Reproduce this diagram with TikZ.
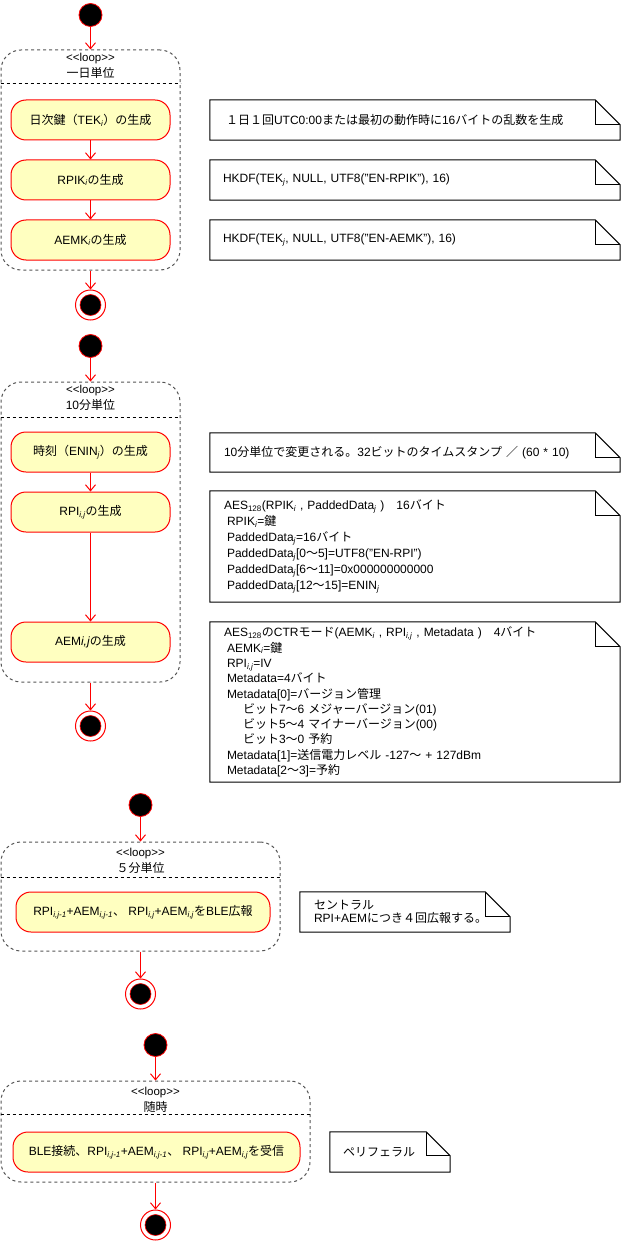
\documentclass[tikz,border=0pt]{standalone}
\usepackage{fontspec}
\setmainfont{Liberation Sans}
\newfontfamily\jpf{Noto Sans CJK JP}
\usetikzlibrary{arrows.meta}
\definecolor{boxfill}{HTML}{FFFFC0}
\definecolor{framegray}{HTML}{555555}
\newcommand\J[1]{{\jpf #1}}
\newcommand\sub[1]{\textsubscript{\itshape #1}}
\newcommand\looptext{<\kern0pt<loop>\kern0pt>}
\newcommand\notefold[2]{%
  \draw[noteline] (#1.north west) -- ([xshift=-#2pt]#1.north east) -- ([yshift=-#2pt]#1.north east) -- (#1.south east) -- (#1.south west) -- cycle;
  \draw[noteline] ([xshift=-#2pt]#1.north east) -- ([xshift=-#2pt,yshift=-#2pt]#1.north east) -- ([yshift=-#2pt]#1.north east);
}
\begin{document}
\begin{tikzpicture}[x=1pt,y=-1pt,
  arr/.style={draw=red, line width=1pt, -{Straight Barb[length=6pt,width=10pt]}},
  startc/.style={circle, fill=black, draw=red, line width=0.8pt, minimum size=23pt, inner sep=0pt},
  endo/.style={circle, fill=white, draw=red, line width=1pt, minimum size=30pt, inner sep=0pt},
  endi/.style={circle, fill=black, draw=red, line width=0.6pt, minimum size=21pt, inner sep=0pt},
  act/.style={draw=red, fill=boxfill, line width=1pt, rounded corners=15pt, minimum height=40pt, inner sep=0pt, font=\fontsize{12}{14}\selectfont},
  frame/.style={draw=framegray, line width=1pt, dash pattern=on 3pt off 3pt, rounded corners=20pt, inner sep=0pt},
  sepl/.style={draw=black, line width=1pt, dash pattern=on 3pt off 3pt},
  noteline/.style={draw=black, line width=1pt},
  note/.style={draw=none, align=left, inner ysep=0pt, font=\fontsize{12}{16}\selectfont},
  lbl/.style={inner sep=0pt, font=\fontsize{12}{14}\selectfont},
  looplbl/.style={inner sep=0pt, font=\fontsize{11.5}{13}\selectfont}
]
\useasboundingbox[fill=white] (0,0) rectangle (621,1241);

% ---------------- Section 1 ----------------
\node[frame, minimum width=179pt, minimum height=220pt] (f1) at (90.5,160) {};
\coordinate (y1) at (0,84);
\draw[sepl] (f1.west |- y1) -- (f1.east |- y1);
\node[looplbl] (l1a) at (90.5,59) {\looptext};
\node[lbl] (l1b) at (90.5,73) {\J{一日単位}};
\node[startc] (s1) at (90.5,15) {};
\node[act, minimum width=159pt] (a1) at (90.5,120) {\J{日次鍵（}TEK\sub{i}\J{）の生成}};
\node[act, minimum width=159pt] (a2) at (90.5,180) {RPIK\sub{i}\J{の生成}};
\node[act, minimum width=159pt] (a3) at (90.5,240) {AEMK\sub{i}\J{の生成}};
\node[endo] (e1) at (90.5,305) {};
\node[endi] (e1i) at (90.5,305) {};
\draw[arr] (s1) -- (f1);
\draw[arr] (a1) -- (a2);
\draw[arr] (a2) -- (a3);
\draw[arr] (f1) -- (e1);

\node[note, minimum width=410pt, minimum height=40pt, inner xsep=16pt, text width=378pt] (n1) at (415,120)
  {\J{１日１回}UTC0:00\J{または最初の動作時に}16\J{バイトの乱数を生成}};
\notefold{n1}{25}
\node[note, minimum width=410pt, minimum height=40pt, inner xsep=13pt, text width=384pt] (n2) at (415,180)
  {HKDF(TEK\sub{j}, NULL, UTF8("EN-RPIK"), 16)};
\notefold{n2}{25}
\node[note, minimum width=410pt, minimum height=40pt, inner xsep=13pt, text width=384pt] (n3) at (415,240)
  {HKDF(TEK\sub{j}, NULL, UTF8("EN-AEMK"), 16)};
\notefold{n3}{25}

% ---------------- Section 2 ----------------
\node[frame, minimum width=179pt, minimum height=300pt] (f2) at (90.5,532) {};
\coordinate (y2) at (0,417);
\draw[sepl] (f2.west |- y2) -- (f2.east |- y2);
\node[looplbl] (l2a) at (90.5,391) {\looptext};
\node[lbl] (l2b) at (90.5,405) {10\J{分単位}};
\node[startc] (s2) at (90.5,346) {};
\node[act, minimum width=159pt] (b1) at (90.5,452) {\J{時刻（}ENIN\sub{j}\J{）の生成}};
\node[act, minimum width=159pt] (b2) at (90.5,512) {RPI\sub{i,j}\J{の生成}};
\node[act, minimum width=159pt] (b3) at (90.5,642) {AEM\textit{i,j}\J{の生成}};
\node[endo] (e2) at (90.5,726) {};
\node[endi] (e2i) at (90.5,726) {};
\draw[arr] (s2) -- (f2);
\draw[arr] (b1) -- (b2);
\draw[arr] (b2) -- (b3);
\draw[arr] (f2) -- (e2);

\node[note, minimum width=410pt, minimum height=39pt, inner xsep=14pt, text width=382pt] (n4) at (415,452.5)
  {10\J{分単位で変更される。}32\J{ビットのタイムスタンプ ／} (60 * 10)};
\notefold{n4}{25}
\node[note, minimum width=410pt, minimum height=111pt, inner xsep=14pt, text width=382pt] (n5) at (415,546.5)
  {AES\textsubscript{128}(RPIK\sub{i} , PaddedData\sub{j} )\J{　}16\J{バイト}\\
   \hspace*{3pt}RPIK\sub{i}=\J{鍵}\\
   \hspace*{3pt}PaddedData\sub{j}=16\J{バイト}\\
   \hspace*{3pt}PaddedData\sub{j}[0\J{～}5]=UTF8("EN-RPI")\\
   \hspace*{3pt}PaddedData\sub{j}[6\J{～}11]=0x000000000000\\
   \hspace*{3pt}PaddedData\sub{j}[12\J{～}15]=ENIN\sub{j}};
\notefold{n5}{25}
\node[note, minimum width=410pt, minimum height=160pt, inner xsep=14pt, text width=382pt, font=\fontsize{12}{15.3}\selectfont] (n6) at (415,702)
  {AES\textsubscript{128}\J{の}CTR\J{モード}(AEMK\sub{i} , RPI\sub{i,j} , Metadata )\J{　}4\J{バイト}\\
   \hspace*{3pt}AEMK\sub{i}=\J{鍵}\\
   \hspace*{3pt}RPI\sub{i,j}=IV\\
   \hspace*{3pt}Metadata=4\J{バイト}\\
   \hspace*{3pt}Metadata[0]=\J{バージョン管理}\\
   \hspace*{19pt}\J{ビット}7\J{～}6 \J{メジャーバージョン}(01)\\
   \hspace*{19pt}\J{ビット}5\J{～}4 \J{マイナーバージョン}(00)\\
   \hspace*{19pt}\J{ビット}3\J{～}0 \J{予約}\\
   \hspace*{3pt}Metadata[1]=\J{送信電力レベル} -127\J{～} + 127dBm\\
   \hspace*{3pt}Metadata[2\J{～}3]=\J{予約}};
\notefold{n6}{25}

% ---------------- Section 3 ----------------
\node[frame, minimum width=279pt, minimum height=109pt] (f3) at (140.5,896.5) {};
\coordinate (y3) at (0,877);
\draw[sepl] (f3.west |- y3) -- (f3.east |- y3);
\node[looplbl] (l3a) at (140.5,854) {\looptext};
\node[lbl] (l3b) at (140.5,868) {\J{５分単位}};
\node[startc] (s3) at (140.5,805) {};
\node[act, minimum width=254pt] (c1) at (143,912)
  {RPI\sub{i,j-1}+AEM\sub{i,j-1}\J{、} RPI\sub{i,j}+AEM\sub{i,j}\J{を}BLE\J{広報}};
\node[endo] (e3) at (140.5,994) {};
\node[endi] (e3i) at (140.5,994) {};
\draw[arr] (s3) -- (f3);
\draw[arr] (f3) -- (e3);
\node[note, minimum width=210pt, minimum height=40pt, inner xsep=14pt, text width=182pt, font=\fontsize{12}{13}\selectfont] (n7) at (405,912)
  {\J{セントラル}\\RPI+AEM\J{につき４回広報する。}};
\notefold{n7}{25}

% ---------------- Section 4 ----------------
\node[frame, minimum width=309pt, minimum height=101pt] (f4) at (155.5,1131.5) {};
\coordinate (y4) at (0,1114);
\draw[sepl] (f4.west |- y4) -- (f4.east |- y4);
\node[looplbl] (l4a) at (155.5,1093) {\looptext};
\node[lbl] (l4b) at (155.5,1107) {\J{随時}};
\node[startc] (s4) at (155.5,1045) {};
\node[act, minimum width=287pt] (d1) at (156.5,1152)
  {BLE\J{接続、}RPI\sub{i,j-1}+AEM\sub{i,j-1}\J{、} RPI\sub{i,j}+AEM\sub{i,j}\J{を受信}};
\node[endo] (e4) at (155.5,1225) {};
\node[endi] (e4i) at (155.5,1225) {};
\draw[arr] (s4) -- (f4);
\draw[arr] (f4) -- (e4);
\node[note, minimum width=120pt, minimum height=40pt, inner xsep=13pt, text width=94pt] (n8) at (390,1152)
  {\J{ペリフェラル}};
\notefold{n8}{24}
\end{tikzpicture}
\end{document}
